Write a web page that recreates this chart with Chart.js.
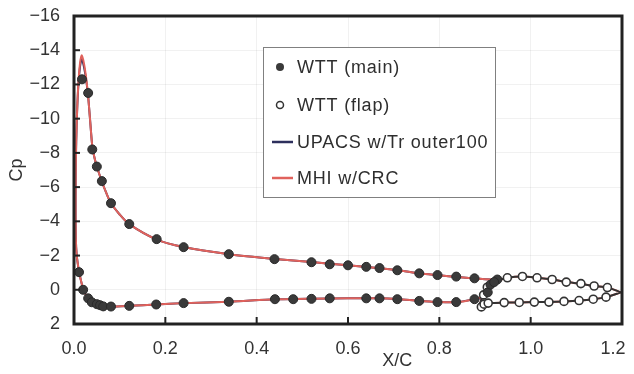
<!DOCTYPE html>
<html>
<head>
<meta charset="utf-8">
<script src="https://cdn.jsdelivr.net/npm/chart.js@4"></script>
<style>
html,body{margin:0;padding:0;background:#fff;}
#wrap{width:634px;height:374px;}
</style>
</head>
<body>
<div id="wrap"><canvas id="c" width="634" height="374"></canvas></div>
<script>
// ---- data ----
const xTitle = 'X/C';
const yTitle = 'Cp';
const legendLabels = ['WTT (main)', 'WTT (flap)', 'UPACS w/Tr outer100', 'MHI w/CRC'];

// CFD curves, main element (closed path: upper TE -> LE -> lower TE)
const mainCurveX = [0.93, 0.9, 0.877, 0.84, 0.8, 0.76, 0.71, 0.67, 0.6, 0.52, 0.44, 0.34, 0.24, 0.18, 0.12, 0.1, 0.08, 0.07, 0.06, 0.05, 0.045, 0.04, 0.035, 0.031, 0.027, 0.022, 0.017, 0.013, 0.009, 0.006, 0.004, 0.0035, 0.004, 0.006, 0.009, 0.011, 0.016, 0.02, 0.026, 0.031, 0.04, 0.05, 0.065, 0.08, 0.12, 0.18, 0.24, 0.34, 0.44, 0.52, 0.6, 0.67, 0.71, 0.76, 0.8, 0.84, 0.877, 0.895, 0.905, 0.912, 0.92, 0.93];
const mhiMainCp = [-0.58, -0.62, -0.66, -0.74, -0.85, -0.95, -1.14, -1.26, -1.43, -1.62, -1.8, -2.08, -2.5, -2.95, -3.85, -4.4, -5.1, -5.7, -6.4, -7.2, -7.7, -8.4, -10.0, -11.3, -12.3, -13.2, -13.7, -13.2, -11.8, -9.8, -7.5, -5.0, -3.0, -2.0, -1.4, -1.05, -0.45, -0.05, 0.3, 0.5, 0.72, 0.85, 0.95, 0.98, 0.94, 0.86, 0.78, 0.7, 0.56, 0.52, 0.5, 0.5, 0.55, 0.65, 0.72, 0.72, 0.55, 0.4, 0.15, -0.25, -0.45, -0.58];
const upacsMainCp = [-0.58, -0.62, -0.66, -0.74, -0.85, -0.95, -1.14, -1.26, -1.43, -1.62, -1.8, -2.08, -2.5, -2.95, -3.85, -4.4, -5.1, -5.7, -6.4, -7.2, -7.7, -8.4, -10.0, -11.3, -12.2, -13.0, -13.5, -13.0, -11.7, -9.8, -7.5, -5.0, -3.0, -2.0, -1.4, -1.05, -0.45, -0.05, 0.3, 0.5, 0.72, 0.85, 0.95, 0.98, 0.94, 0.86, 0.78, 0.7, 0.56, 0.52, 0.5, 0.5, 0.55, 0.65, 0.72, 0.72, 0.55, 0.45, 0.2, -0.2, -0.42, -0.58];

// CFD curves, flap (closed path: TE -> upper -> LE -> lower -> TE)
const flapCurveX = [1.198, 1.168, 1.139, 1.11, 1.078, 1.047, 1.014, 0.982, 0.949, 0.93, 0.915, 0.903, 0.895, 0.89, 0.888, 0.892, 0.9, 0.91, 0.942, 0.975, 1.008, 1.04, 1.073, 1.106, 1.137, 1.165, 1.198];
const mhiFlapCp = [0.15, -0.13, -0.22, -0.35, -0.45, -0.6, -0.7, -0.77, -0.7, -0.55, -0.35, -0.05, 0.35, 0.75, 0.98, 1.0, 0.85, 0.78, 0.75, 0.74, 0.72, 0.71, 0.68, 0.63, 0.55, 0.43, 0.15];
const upacsFlapCp = [0.15, -0.13, -0.22, -0.35, -0.45, -0.6, -0.7, -0.77, -0.7, -0.55, -0.35, -0.05, 0.35, 0.75, 0.98, 1.0, 0.85, 0.78, 0.75, 0.74, 0.72, 0.71, 0.68, 0.63, 0.55, 0.43, 0.15];

// Wind tunnel test points
const wttMainX = [0.0175, 0.031, 0.040, 0.050, 0.061, 0.081, 0.121, 0.181, 0.240, 0.339, 0.439, 0.52, 0.56, 0.60, 0.64, 0.669, 0.708, 0.756, 0.796, 0.837, 0.877, 0.927, 0.011, 0.02, 0.031, 0.039, 0.05, 0.057, 0.064, 0.081, 0.121, 0.18, 0.24, 0.339, 0.44, 0.48, 0.52, 0.56, 0.64, 0.669, 0.708, 0.756, 0.796, 0.837, 0.877, 0.906, 0.912, 0.92];
const wttMainCp = [-12.3, -11.5, -8.2, -7.2, -6.35, -5.06, -3.84, -2.96, -2.49, -2.08, -1.79, -1.61, -1.49, -1.43, -1.34, -1.27, -1.14, -0.96, -0.86, -0.77, -0.67, -0.6, -1.03, 0.0, 0.5, 0.73, 0.84, 0.9, 0.97, 0.98, 0.94, 0.86, 0.78, 0.7, 0.55, 0.55, 0.53, 0.5, 0.5, 0.5, 0.55, 0.65, 0.72, 0.72, 0.55, 0.15, -0.3, -0.45];
const wttFlapX = [0.949, 0.982, 1.014, 1.047, 1.078, 1.11, 1.139, 1.168, 0.892, 0.898, 0.907, 0.942, 0.975, 1.008, 1.04, 1.073, 1.106, 1.137, 1.165, 0.897, 0.905];
const wttFlapCp = [-0.7, -0.78, -0.7, -0.6, -0.45, -0.36, -0.22, -0.13, 1.0, 0.84, 0.78, 0.75, 0.74, 0.72, 0.72, 0.68, 0.63, 0.55, 0.43, 0.3, -0.15];

// axis tick settings
const xMin = 0, xMax = 1.2, xStep = 0.2;
const yMin = -16, yMax = 2, yStep = 2;

// ---- build ----
const zip = (xs, ys) => xs.map((x, i) => ({x: x, y: ys[i]}));
const RED = '#e0625c';
const NAVY = '#2d2f5c';
const FONT = '"Liberation Sans", Arial, sans-serif';
const GRID = 'rgba(0,0,0,0.055)';

const lineDs = (label, data, color) => ({
  label, data, showLine: true, borderColor: color, backgroundColor: color,
  borderWidth: 2, pointRadius: 0, pointHoverRadius: 0, tension: 0.25, fill: false
});

const datasets = [
  {label: legendLabels[0], data: zip(wttMainX, wttMainCp), showLine: false,
   pointRadius: 4.5, pointBackgroundColor: '#3a3a3a', pointBorderColor: '#2a2a2a', pointBorderWidth: 1},
  {label: legendLabels[1], data: zip(wttFlapX, wttFlapCp), showLine: false,
   pointRadius: 4, pointBackgroundColor: '#ffffff', pointBorderColor: '#333333', pointBorderWidth: 1.6},
  lineDs(legendLabels[2], zip(flapCurveX, upacsFlapCp), '#333333'),
  lineDs(legendLabels[3], zip(mainCurveX, mhiMainCp), RED),
  lineDs(legendLabels[2], zip(mainCurveX, upacsMainCp), NAVY),
  lineDs(legendLabels[3], zip(flapCurveX, mhiFlapCp), RED)
];

const fmtY = v => v < 0 ? '\u2212' + Math.abs(v) : String(v);

const decorPlugin = {
  id: 'decor',
  afterDraw(chart) {
    const {ctx, chartArea: a, scales: {x, y}} = chart;
    ctx.save();
    // inward tick marks
    ctx.strokeStyle = '#222'; ctx.lineWidth = 2;
    x.ticks.forEach(t => {
      const px = x.getPixelForValue(t.value);
      ctx.beginPath(); ctx.moveTo(px, a.bottom); ctx.lineTo(px, a.bottom - 7); ctx.stroke();
    });
    y.ticks.forEach(t => {
      const py = y.getPixelForValue(t.value);
      ctx.beginPath(); ctx.moveTo(a.left, py); ctx.lineTo(a.left + 6, py); ctx.stroke();
    });
    // frame
    ctx.lineWidth = 3; ctx.strokeStyle = '#222';
    ctx.strokeRect(a.left, a.top, a.right - a.left, a.bottom - a.top);

    // legend box
    const lx = a.left + 189, ly = a.top + 31, lw = 232, lh = 150;
    ctx.fillStyle = '#ffffff';
    ctx.fillRect(lx, ly, lw, lh);
    ctx.lineWidth = 1; ctx.strokeStyle = '#808080';
    ctx.strokeRect(lx + 0.5, ly + 0.5, lw, lh);
    const rows = [ly + 20, ly + 58, ly + 95, ly + 131];
    const mx = lx + 17;
    // markers
    ctx.fillStyle = '#3a3a3a';
    ctx.beginPath(); ctx.arc(mx, rows[0], 4, 0, Math.PI * 2); ctx.fill();
    ctx.fillStyle = '#fff'; ctx.strokeStyle = '#333'; ctx.lineWidth = 1.5;
    ctx.beginPath(); ctx.arc(mx, rows[1], 3.5, 0, Math.PI * 2); ctx.fill(); ctx.stroke();
    ctx.lineWidth = 2.5;
    ctx.strokeStyle = NAVY;
    ctx.beginPath(); ctx.moveTo(lx + 9, rows[2]); ctx.lineTo(lx + 30, rows[2]); ctx.stroke();
    ctx.strokeStyle = RED;
    ctx.beginPath(); ctx.moveTo(lx + 9, rows[3]); ctx.lineTo(lx + 30, rows[3]); ctx.stroke();
    // labels
    ctx.fillStyle = '#2e2e2e';
    ctx.font = '18px ' + FONT;
    if ('letterSpacing' in ctx) ctx.letterSpacing = '0.8px';
    ctx.textAlign = 'left'; ctx.textBaseline = 'middle';
    legendLabels.forEach((t, i) => ctx.fillText(t, lx + 34, rows[i] + 1));
    if ('letterSpacing' in ctx) ctx.letterSpacing = '0px';

    // x axis title
    ctx.fillStyle = '#333';
    ctx.textAlign = 'center';
    ctx.fillText(xTitle, x.getPixelForValue(0.708), 361);
    ctx.restore();
  }
};

new Chart(document.getElementById('c'), {
  type: 'scatter',
  data: {datasets},
  options: {
    responsive: false,
    animation: false,
    devicePixelRatio: 1,
    layout: {padding: {left: 0, top: 16, right: 12, bottom: 0}},
    plugins: {legend: {display: false}, tooltip: {enabled: false}},
    scales: {
      x: {
        type: 'linear', min: xMin, max: xMax,
        border: {display: false},
        grid: {color: GRID, drawTicks: false, dash: [2, 3], borderDash: [2, 3]},
        ticks: {
          stepSize: xStep, padding: 14, color: '#333', font: {family: FONT, size: 18},
          maxRotation: 0,
          callback: v => Math.abs(v - 1.2) < 1e-9 ? '1.2\u2003' : (Math.round(v * 10) / 10).toFixed(1)
        },
        afterFit: s => { s.height = 50; s.paddingLeft = 0; s.paddingRight = 0; }
      },
      y: {
        type: 'linear', min: yMin, max: yMax, reverse: true,
        border: {display: false},
        grid: {color: GRID, drawTicks: false, dash: [2, 3], borderDash: [2, 3]},
        ticks: {stepSize: yStep, padding: 14, color: '#333', font: {family: FONT, size: 18}, callback: fmtY},
        title: {display: true, text: yTitle, color: '#333', font: {family: FONT, size: 18}, padding: {top: 6, bottom: 0}},
        afterFit: s => { s.width = 74; s.paddingTop = 0; s.paddingBottom = 0; }
      }
    }
  },
  plugins: [decorPlugin]
});
</script>
</body>
</html>
